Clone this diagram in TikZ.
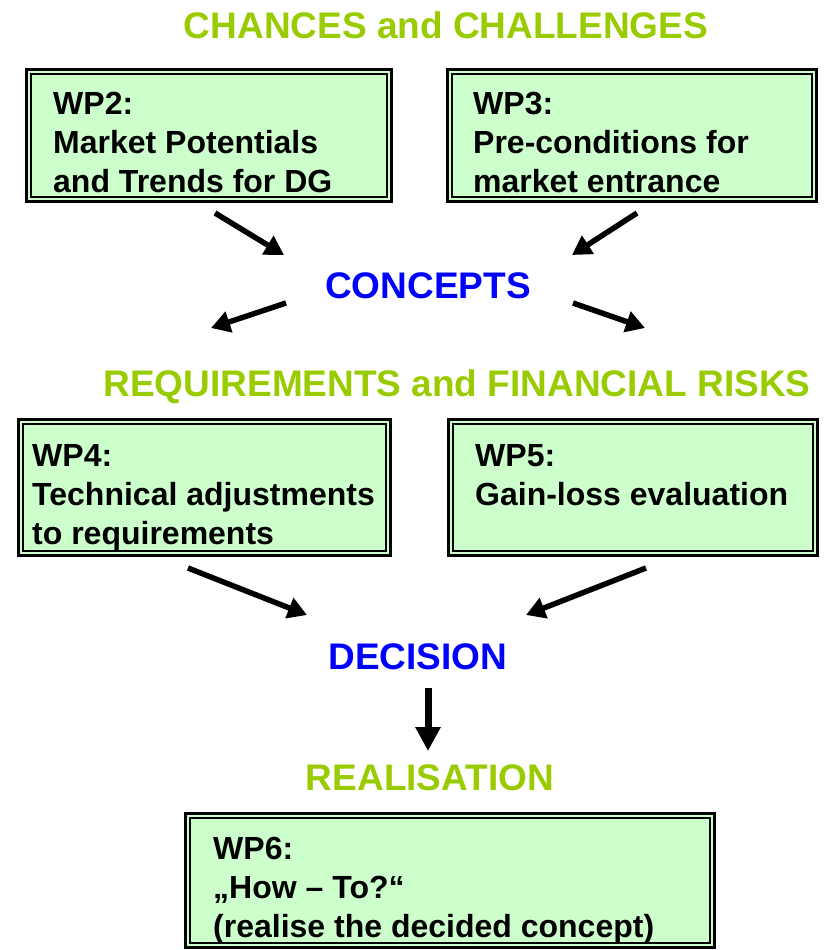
\documentclass[tikz,border=0pt]{standalone}
\usepackage{fontspec}
\setmainfont{Liberation Sans}
\usetikzlibrary{arrows.meta}
\definecolor{titlegreen}{HTML}{99CC00}
\definecolor{boxgreen}{HTML}{CCFFCC}
\definecolor{hubblue}{HTML}{0000FF}
\tikzset{
  wpbox/.style={draw=black, line width=3pt, fill=boxgreen, inner sep=0pt, outer sep=0pt},
  wpinner/.style={draw=black, line width=2pt},
  wptext/.style={anchor=north west, align=left, inner sep=0pt, font=\fontsize{32}{39}\selectfont\bfseries},
  ttl/.style={anchor=base, inner sep=0pt, font=\fontsize{37}{44}\selectfont\bfseries, text=titlegreen},
  hub/.style={anchor=base, inner sep=0pt, font=\fontsize{37}{44}\selectfont\bfseries, text=hubblue},
  arr/.style={line width=5.5pt, -{Triangle[length=19pt,width=21pt]}},
  bigarr/.style={line width=7pt, -{Triangle[length=24pt,width=24pt]}}
}
\begin{document}
\begin{tikzpicture}[x=1pt,y=-1pt]
\useasboundingbox (0,0) rectangle (824,950);

% titles
\node[ttl] (t1) at (446,38) {CHANCES and CHALLENGES};
\node[hub] (concepts) at (428,298) {CONCEPTS};
\node[ttl] (t2) at (457,396) {REQUIREMENTS and FINANCIAL RISKS};
\node[hub] (decision) at (418,669) {DECISION};
\node[ttl] (t3) at (430,790) {REALISATION};

% boxes
\node[wpbox, minimum width=365pt, minimum height=132pt] (wp2) at (209,135.5) {};
\node[wpbox, minimum width=369pt, minimum height=132pt] (wp3) at (631.5,135.5) {};
\node[wpbox, minimum width=372pt, minimum height=136pt] (wp4) at (204.5,487.5) {};
\node[wpbox, minimum width=369pt, minimum height=136pt] (wp5) at (633,487.5) {};
\node[wpbox, minimum width=529pt, minimum height=134pt] (wp6) at (450,880.5) {};
\foreach \b in {wp2,wp3,wp4,wp5,wp6}{
  \draw[wpinner] ([shift={(4.5pt,-4.5pt)}]\b.north west) rectangle ([shift={(-4.5pt,4.5pt)}]\b.south east);
}

% box texts
\node[wptext] (wp2t) at (53,92) {WP2:\\Market Potentials\\and Trends for DG};
\node[wptext] (wp3t) at (473,92) {WP3:\\Pre-conditions for\\market entrance};
\node[wptext] (wp4t) at (32,444) {WP4:\\Technical adjustments\\to requirements};
\node[wptext] (wp5t) at (475,444) {WP5:\\Gain-loss evaluation};
\node[wptext] (wp6t) at (213,837) {WP6:\\„How – To?“\\(realise the decided concept)};

% arrow end points
\coordinate (a1s) at (215,213); \coordinate (a1e) at (284,255);
\coordinate (a2s) at (637,213); \coordinate (a2e) at (572,255);
\coordinate (a3s) at (286,303); \coordinate (a3e) at (211,328);
\coordinate (a4s) at (573,303); \coordinate (a4e) at (645,328);
\coordinate (a5s) at (188,568); \coordinate (a5e) at (307,615);
\coordinate (a6s) at (646,568); \coordinate (a6e) at (526,615);
\coordinate (a7s) at (428,688); \coordinate (a7e) at (428,751);

\draw[arr] (a1s) -- (a1e);
\draw[arr] (a2s) -- (a2e);
\draw[arr] (a3s) -- (a3e);
\draw[arr] (a4s) -- (a4e);
\draw[arr] (a5s) -- (a5e);
\draw[arr] (a6s) -- (a6e);
\draw[bigarr] (a7s) -- (a7e);
\end{tikzpicture}
\end{document}
